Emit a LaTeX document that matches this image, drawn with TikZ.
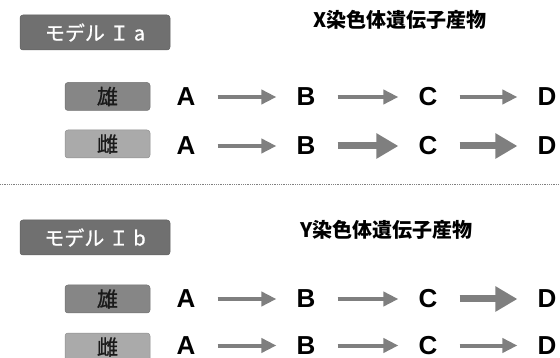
\documentclass[tikz,border=0pt]{standalone}
\usepackage{fontspec}
\setmainfont{Liberation Sans}
\newfontfamily\jp{Noto Sans CJK JP}
\newfontfamily\jpm{Noto Sans CJK JP}[FakeBold=0.8]
\usetikzlibrary{arrows.meta}
\definecolor{modelgray}{HTML}{707070}
\definecolor{maleGray}{HTML}{868686}
\definecolor{femaleGray}{HTML}{AAAAAA}
\definecolor{arrowgray}{HTML}{7F7F7F}
\definecolor{labeltext}{HTML}{1A1A1A}
\tikzset{
  modelbox/.style={draw=modelgray!85!black, line width=0.5pt, fill=modelgray, rounded corners=3pt,
    minimum width=150pt, minimum height=35pt, inner sep=0pt, text=white, font=\jpm\fontsize{20pt}{20pt}\selectfont},
  sexbox/.style={draw=#1!85!black, line width=0.5pt, fill=#1, rounded corners=3pt,
    minimum width=85pt, minimum height=28pt, inner sep=0pt, text=labeltext, font=\jpm\fontsize{21pt}{21pt}\selectfont},
  title/.style={inner sep=0pt, font=\jp\bfseries\fontsize{20pt}{20pt}\selectfont},
  letter/.style={inner sep=0pt, font=\bfseries\fontsize{26pt}{26pt}\selectfont},
  thinarrow/.style={draw=arrowgray, line width=4pt, shorten <=22pt, shorten >=20pt,
    -{Triangle[length=15pt,width=14pt]}},
  thickarrow/.style={draw=arrowgray, line width=7pt, shorten <=22pt, shorten >=20pt,
    -{Triangle[length=22pt,width=24pt]}},
  sep/.style={draw=gray, line width=0.7pt, dash pattern=on 0.8pt off 1pt}
}
\begin{document}
\begin{tikzpicture}[x=1pt,y=-1pt]
\useasboundingbox (0,0) rectangle (560,358);
% Model Ia
\node[modelbox] (ma) at (95,32.5) {モデル Ｉ a};
\node[title, anchor=west] (ta) at (313,20) {X染色体遺伝子産物};
\node[sexbox=maleGray] (m1) at (107.5,96.5) {雄};
\node[sexbox=femaleGray] (f1) at (107.5,144) {雌};
\foreach \r/\y in {1/97, 2/146, 3/299, 4/345.5} {
  \node[letter] (A\r) at (186,\y) {A};
  \node[letter] (B\r) at (306,\y) {B};
  \node[letter] (C\r) at (428,\y) {C};
  \node[letter] (D\r) at (547,\y) {D};
}
\draw[thinarrow] (A1.east) -- (B1.west);
\draw[thinarrow] (B1.east) -- (C1.west);
\draw[thinarrow] (C1.east) -- (D1.west);
\draw[thinarrow] (A2.east) -- (B2.west);
\draw[thickarrow] (B2.east) -- (C2.west);
\draw[thickarrow] (C2.east) -- (D2.west);
% separator
\coordinate (sl) at (0,184);
\coordinate (sr) at (560,184);
\draw[sep] (sl) -- (sr);
% Model Ib
\node[modelbox] (mb) at (95,237.5) {モデル Ｉ b};
\node[title, anchor=west] (tb) at (300,230) {Y染色体遺伝子産物};
\node[sexbox=maleGray] (m3) at (107.5,299) {雄};
\node[sexbox=femaleGray] (f4) at (107.5,347) {雌};
\draw[thinarrow] (A3.east) -- (B3.west);
\draw[thinarrow] (B3.east) -- (C3.west);
\draw[thickarrow] (C3.east) -- (D3.west);
\draw[thinarrow] (A4.east) -- (B4.west);
\draw[thinarrow] (B4.east) -- (C4.west);
\draw[thinarrow] (C4.east) -- (D4.west);
\end{tikzpicture}
\end{document}
